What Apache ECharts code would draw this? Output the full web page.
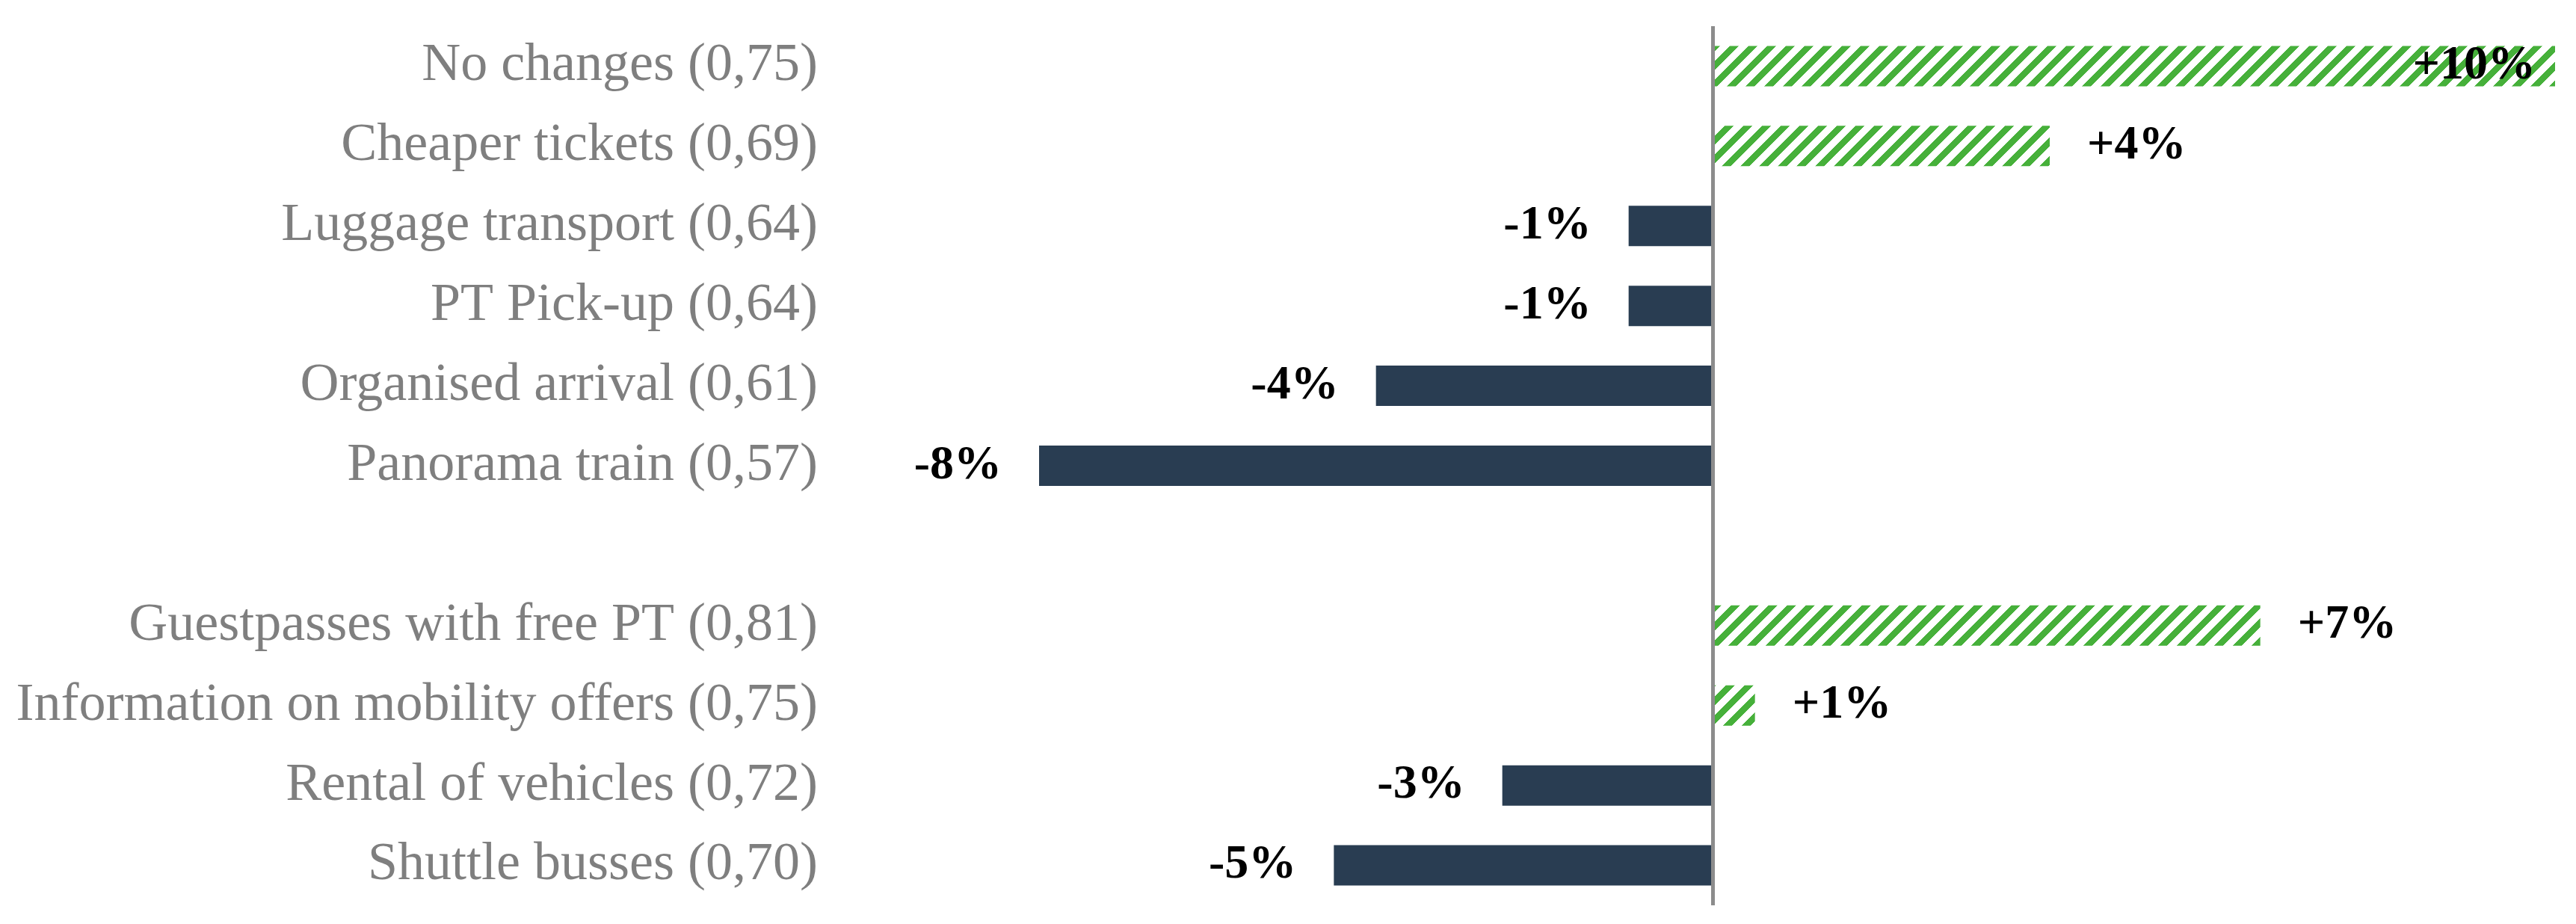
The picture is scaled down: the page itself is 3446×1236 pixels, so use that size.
<!DOCTYPE html>
<html>
<head>
<meta charset="utf-8">
<script src="https://cdn.jsdelivr.net/npm/echarts@6/dist/echarts.min.js"></script>
<style>
  html, body { margin: 0; padding: 0; background: #fff; }
  #chart { width: 3446px; height: 1236px; }
</style>
</head>
<body>
<div id="chart"></div>
<script>
// categories, top to bottom ('' is the empty spacer row)
const categories = [
    'No changes (0,75)',
    'Cheaper tickets (0,69)',
    'Luggage transport (0,64)',
    'PT Pick-up (0,64)',
    'Organised arrival (0,61)',
    'Panorama train (0,57)',
    '',
    'Guestpasses with free PT (0,81)',
    'Information on mobility offers (0,75)',
    'Rental of vehicles (0,72)',
    'Shuttle busses (0,70)'
];
const values = [10, 4, -1, -1, -4, -8, null, 6.5, 0.5, -2.5, -4.5];
const valueLabels = ['+10%', '+4%', '-1%', '-1%', '-4%', '-8%', '', '+7%', '+1%', '-3%', '-5%'];

const NAVY = '#293d52';
const GREEN = '#46b03a';

// hatched fill for positive bars
const tile = document.createElement('canvas');
tile.width = 25;
tile.height = 25;
const tctx = tile.getContext('2d');
tctx.fillStyle = '#ffffff';
tctx.fillRect(0, 0, 25, 25);
tctx.fillStyle = GREEN;
for (let y = 0; y < 25; y++) {
    for (let x = 0; x < 25; x++) {
        if ((x + y) % 25 < 12) tctx.fillRect(x, y, 1, 1);
    }
}
const hatch = { image: tile, repeat: 'repeat' };

const myChart = echarts.init(document.getElementById('chart'));

const seriesData = values.map((v, i) => {
    if (v === null) return '-';
    let pos = v < 0 ? 'left' : 'right';
    let dist = 50;
    if (i === 0) { pos = 'insideRight'; dist = 26; }
    return {
        value: v,
        itemStyle: { color: v < 0 ? NAVY : hatch },
        label: { position: pos, distance: dist, formatter: valueLabels[i] }
    };
});

const option = {
    animation: false,
    grid: { left: 1390, right: 28, top: 35, bottom: 25, containLabel: false },
    xAxis: {
        type: 'value',
        min: -8,
        max: 10,
        show: false
    },
    yAxis: {
        type: 'category',
        data: categories,
        inverse: true,
        axisLine: { show: false },
        axisTick: { show: false },
        splitLine: { show: false },
        axisLabel: {
            margin: 296,
            color: '#7f7f7f',
            fontFamily: 'Liberation Serif',
            fontSize: 72
        }
    },
    series: [
        {
            type: 'bar',
            barWidth: 54,
            data: seriesData,
            label: {
                show: true,
                color: '#000',
                fontFamily: 'Liberation Serif',
                fontWeight: 'bold',
                fontSize: 64
            },
            markLine: {
                silent: true,
                symbol: ['none', 'none'],
                label: { show: false },
                lineStyle: { color: '#8c8c8c', width: 5, type: 'solid' },
                data: [{ xAxis: 0 }]
            }
        }
    ]
};

myChart.setOption(option);
</script>
</body>
</html>
